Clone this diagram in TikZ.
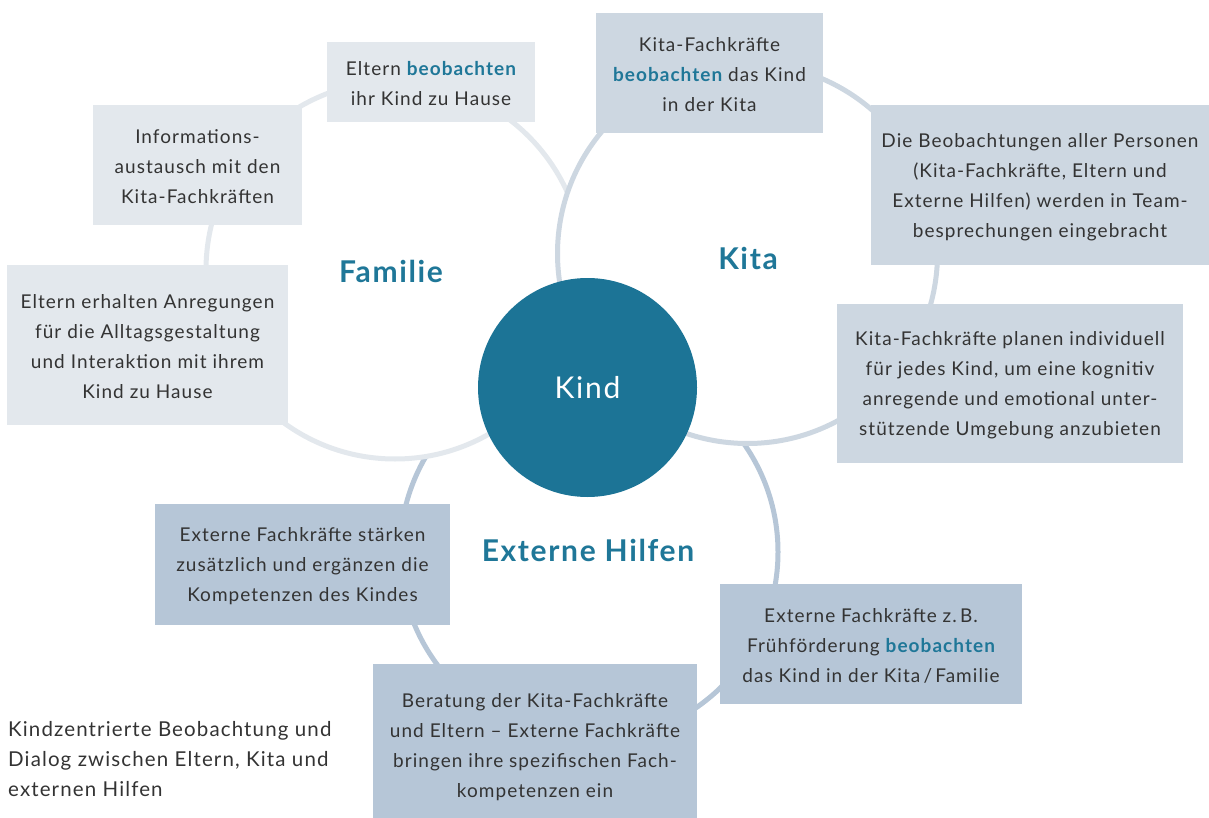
\documentclass[tikz,border=0pt]{standalone}
\usepackage{fontspec}
\setmainfont{Lato}[LetterSpace=5.5]
\definecolor{famc}{HTML}{E3E8ED}
\definecolor{kitac}{HTML}{CDD7E1}
\definecolor{extc}{HTML}{B6C6D7}
\definecolor{kindc}{HTML}{1C7496}
\definecolor{titlec}{HTML}{1F7798}
\definecolor{txtc}{HTML}{333333}
\newcommand{\hl}[1]{\textcolor{titlec}{\bfseries #1}}
\begin{document}
\begin{tikzpicture}[x=1pt,y=-1pt,
  ring/.style={line width=5pt,fill=white},
  box/.style={rectangle,inner sep=0pt,align=center,text=txtc,font=\fontsize{19}{30}\selectfont},
  fambox/.style={box,fill=famc},
  kitabox/.style={box,fill=kitac},
  extbox/.style={box,fill=extc},
  title/.style={text=titlec,font=\fontsize{30}{34}\selectfont\bfseries}]
\useasboundingbox (0,0) rectangle (1209,818);
% rings
\draw[ring,draw=extc] (589,552) circle[radius=189];
\draw[ring,draw=famc] (395,270) circle[radius=189];
\draw[ring,draw=kitac] (747.5,253.5) circle[radius=190];
% centre
\node[circle,fill=kindc,minimum size=219pt,inner sep=0pt,text=white,font=\fontsize{30}{34}\selectfont] (kind) at (587.5,387.5) {Kind};
% titles
\node[title] (tfam) at (391,271) {Familie};
\node[title] (tkita) at (748,258) {Kita};
\node[title] (text) at (588,550) {Externe Hilfen};
% box backgrounds
\node[fambox,minimum width=208pt,minimum height=80pt] (f1) at (431,82) {};
\node[fambox,minimum width=209pt,minimum height=120pt] (f2) at (197.5,165) {};
\node[fambox,minimum width=281pt,minimum height=160pt] (f3) at (147.5,345) {};
\node[kitabox,minimum width=227pt,minimum height=120pt] (k1) at (709.5,73) {};
\node[kitabox,minimum width=338pt,minimum height=160pt] (k2) at (1040,185) {};
\node[kitabox,minimum width=346pt,minimum height=159pt] (k3) at (1010,383.5) {};
\node[extbox,minimum width=295pt,minimum height=121pt] (e1) at (302.5,564.5) {};
\node[extbox,minimum width=302pt,minimum height=120pt] (e2) at (871,644) {};
\node[extbox,minimum width=324pt,minimum height=154pt] (e3) at (535,741) {};
% box texts
\node[box] (f1t) at ([yshift=-2pt]f1.center) {Eltern \hl{beobachten}\\ihr Kind zu Hause};
\node[box] (f2t) at ([yshift=-2pt]f2.center) {Informations-\\austausch mit den\\Kita-Fachkräften};
\node[box] (f3t) at ([yshift=-2pt]f3.center) {Eltern erhalten Anregungen\\für die Alltagsgestaltung\\und Interaktion mit ihrem\\Kind zu Hause};
\node[box] (k1t) at ([yshift=-2pt]k1.center) {Kita-Fachkräfte\\\hl{beobachten} das Kind\\in der Kita};
\node[box] (k2t) at ([yshift=-2pt]k2.center) {Die Beobachtungen aller Personen\\(Kita-Fachkräfte, Eltern und\\Externe Hilfen) werden in Team-\\besprechungen eingebracht};
\node[box] (k3t) at ([yshift=-2pt]k3.center) {Kita-Fachkräfte planen individuell\\für jedes Kind, um eine kognitiv\\anregende und emotional unter-\\stützende Umgebung anzubieten};
\node[box] (e1t) at ([yshift=-2pt]e1.center) {Externe Fachkräfte stärken\\zusätzlich und ergänzen die\\Kompetenzen des Kindes};
\node[box] (e2t) at ([yshift=-2pt]e2.center) {Externe Fachkräfte z.\,B.\\Frühförderung \hl{beobachten}\\das Kind in der Kita\,/\,Familie};
\node[box] (e3t) at ([yshift=-6pt]e3.center) {Beratung der Kita-Fachkräfte\\und Eltern – Externe Fachkräfte\\bringen ihre spezifischen Fach-\\kompetenzen ein};
% caption
\node[anchor=west,inner sep=0pt,align=left,text=txtc,font=\fontsize{20.5}{30}\selectfont] (cap) at (8,759) {Kindzentrierte Beobachtung und\\Dialog zwischen Eltern, Kita und\\externen Hilfen};
\end{tikzpicture}
\end{document}
